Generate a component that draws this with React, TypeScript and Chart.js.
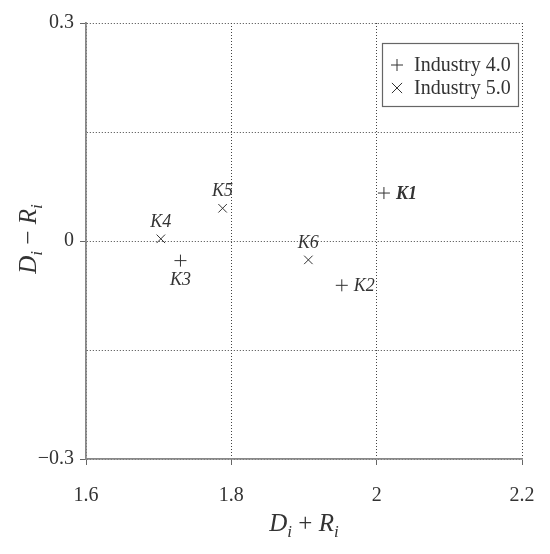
import React, { useEffect, useRef } from "react";
import { Chart, registerables } from "chart.js";

Chart.register(...registerables);

const industry40Labels = ["K1", "K2", "K3"];
const industry40X = [2.01, 1.952, 1.73];
const industry40Y = [0.066, -0.061, -0.027];

const industry50Labels = ["K4", "K5", "K6"];
const industry50X = [1.703, 1.788, 1.906];
const industry50Y = [0.003, 0.045, -0.026];

const seriesNames = ["Industry 4.0", "Industry 5.0"];
const xTicks = [1.6, 1.8, 2.0, 2.2];
const yTicks = [-0.3, -0.15, 0, 0.15, 0.3];
const yTickLabels: Record<string, string> = { "-0.3": "\u22120.3", "0": "0", "0.3": "0.3" };

// label placements for annotation text
const placement40 = ["right", "right", "below"];
const placement50 = ["above", "above", "above"];
const bold40 = [true, false, false];

const SERIF = '"Liberation Serif", "DejaVu Serif", serif';
const INK = "#333";

function drawSubText(ctx: CanvasRenderingContext2D, parts: [string, boolean][], size: number) {
  const main = `italic ${size}px ${SERIF}`;
  const upright = `${size}px ${SERIF}`;
  const sub = `italic ${Math.round(size * 0.68)}px ${SERIF}`;
  const seg: { t: string; f: string; dy: number }[] = [];
  for (const [t, isSub] of parts) {
    if (isSub) seg.push({ t, f: sub, dy: size * 0.22 });
    else if (t.trim() === "+" || t.trim() === "\u2212") seg.push({ t, f: upright, dy: 0 });
    else seg.push({ t, f: main, dy: 0 });
  }
  let w = 0;
  for (const s of seg) {
    ctx.font = s.f;
    w += ctx.measureText(s.t).width;
  }
  return {
    w,
    draw: (x0: number, y0: number) => {
      let x = x0;
      for (const s of seg) {
        ctx.font = s.f;
        ctx.fillText(s.t, x, y0 + s.dy);
        x += ctx.measureText(s.t).width;
      }
    },
  };
}

const annotations = {
  id: "annotations",
  afterDraw(chart: any) {
    const ctx: CanvasRenderingContext2D = chart.ctx;
    const xs = chart.scales.x;
    const ys = chart.scales.y;
    const area = chart.chartArea;
    ctx.save();
    ctx.fillStyle = INK;
    ctx.textBaseline = "alphabetic";
    ctx.textAlign = "left";

    // axis titles
    const xt = drawSubText(ctx, [["D", false], ["i", true], [" + ", false], ["R", false], ["i", true]], 25);
    xt.draw((area.left + area.right) / 2 - xt.w / 2, 531);
    const yt = drawSubText(ctx, [["D", false], ["i", true], [" \u2212 ", false], ["R", false], ["i", true]], 25);
    ctx.save();
    ctx.translate(36, (area.top + area.bottom) / 2 - 2);
    ctx.rotate(-Math.PI / 2);
    yt.draw(-yt.w / 2, 0);
    ctx.restore();

    // point labels
    const drawLabels = (labels: string[], xv: number[], yv: number[], place: string[], bold?: boolean[]) => {
      labels.forEach((lab, i) => {
        const px = xs.getPixelForValue(xv[i]);
        const py = ys.getPixelForValue(yv[i]);
        ctx.font = `${bold && bold[i] ? "bold " : ""}italic 18px ${SERIF}`;
        if (place[i] === "right") {
          ctx.textAlign = "left";
          ctx.textBaseline = "middle";
          ctx.fillText(lab, px + 12, py + 1);
        } else if (place[i] === "below") {
          ctx.textAlign = "center";
          ctx.textBaseline = "top";
          ctx.fillText(lab, px, py + 11);
        } else {
          ctx.textAlign = "center";
          ctx.textBaseline = "bottom";
          ctx.fillText(lab, px, py - 8);
        }
      });
    };
    drawLabels(industry40Labels, industry40X, industry40Y, placement40, bold40);
    drawLabels(industry50Labels, industry50X, industry50Y, placement50);

    // legend box
    const bx = 382, by = 43, bw = 136, bh = 63;
    ctx.fillStyle = "#fff";
    ctx.fillRect(bx, by, bw, bh);
    ctx.strokeStyle = "#666";
    ctx.lineWidth = 1.2;
    ctx.strokeRect(bx + 0.5, by + 0.5, bw, bh);
    const styles = ["cross", "crossRot"];
    seriesNames.forEach((name, i) => {
      const cy = by + 22 + i * 23;
      ctx.strokeStyle = INK;
      ctx.lineWidth = 1;
      ctx.beginPath();
      const r = 6;
      const cx = bx + 15;
      if (styles[i] === "cross") {
        ctx.moveTo(cx - r, cy); ctx.lineTo(cx + r, cy);
        ctx.moveTo(cx, cy - r); ctx.lineTo(cx, cy + r);
      } else {
        const o = r * 0.85;
        ctx.moveTo(cx - o, cy - o); ctx.lineTo(cx + o, cy + o);
        ctx.moveTo(cx - o, cy + o); ctx.lineTo(cx + o, cy - o);
      }
      ctx.stroke();
      ctx.fillStyle = INK;
      ctx.font = `20px ${SERIF}`;
      ctx.textAlign = "left";
      ctx.textBaseline = "middle";
      ctx.fillText(name, bx + 32, cy + 1);
    });
    ctx.restore();
  },
};

export default function App() {
  const ref = useRef<HTMLCanvasElement>(null);
  useEffect(() => {
    document.body.style.margin = "0";
    const toPts = (xv: number[], yv: number[]) => xv.map((x, i) => ({ x, y: yv[i] }));
    const chart = new Chart(ref.current!, {
      type: "scatter",
      data: {
        datasets: [
          {
            label: seriesNames[0],
            data: toPts(industry40X, industry40Y),
            pointStyle: "cross",
            pointRadius: 6,
            borderColor: INK,
            borderWidth: 1,
            backgroundColor: INK,
          },
          {
            label: seriesNames[1],
            data: toPts(industry50X, industry50Y),
            pointStyle: "crossRot",
            pointRadius: 6,
            borderColor: INK,
            borderWidth: 1,
            backgroundColor: INK,
          },
        ],
      },
      options: {
        animation: false,
        responsive: false,
        layout: { padding: { left: 8, top: 23, right: 28, bottom: 0 } },
        plugins: { legend: { display: false }, tooltip: { enabled: false } },
        scales: {
          x: {
            type: "linear",
            min: 1.6,
            max: 2.2,
            afterBuildTicks: (s: any) => { s.ticks = xTicks.map((v) => ({ value: v })); },
            afterFit: (s: any) => { s.height = 95; s.paddingLeft = 0; s.paddingRight = 0; },
            ticks: {
              color: INK,
              font: { family: SERIF, size: 20 },
              padding: 19,
              callback: (v: any) => String(Math.round(Number(v) * 10) / 10),
              maxRotation: 0,
            },
            grid: {
              color: "#444",
              lineWidth: 1,
              tickColor: "#666",
              tickLength: 6,
              tickBorderDash: [],
            },
            border: { display: true, color: "#888", width: 1.8, dash: [1, 2] },
          },
          y: {
            type: "linear",
            min: -0.3,
            max: 0.3,
            afterBuildTicks: (s: any) => { s.ticks = yTicks.map((v) => ({ value: v })); },
            afterFit: (s: any) => { s.width = 78; s.paddingTop = 0; s.paddingBottom = 0; },
            ticks: {
              color: INK,
              font: { family: SERIF, size: 20 },
              padding: 6,
              callback: (v: any) => yTickLabels[String(Math.round(Number(v) * 100) / 100)] ?? "",
            },
            grid: {
              color: "#444",
              lineWidth: 1,
              tickColor: (c: any) => (Math.abs(c.tick?.value ?? 0) === 0.15 ? "rgba(0,0,0,0)" : "#666"),
              tickLength: 6,
              tickBorderDash: [],
            },
            border: { display: true, color: "#888", width: 1.8, dash: [1, 2] },
          },
        },
      },
      plugins: [annotations],
    } as any);
    return () => chart.destroy();
  }, []);
  return (
    <div style={{ width: 550, height: 554 }}>
      <canvas ref={ref} width={550} height={554} style={{ display: "block" }} />
    </div>
  );
}
